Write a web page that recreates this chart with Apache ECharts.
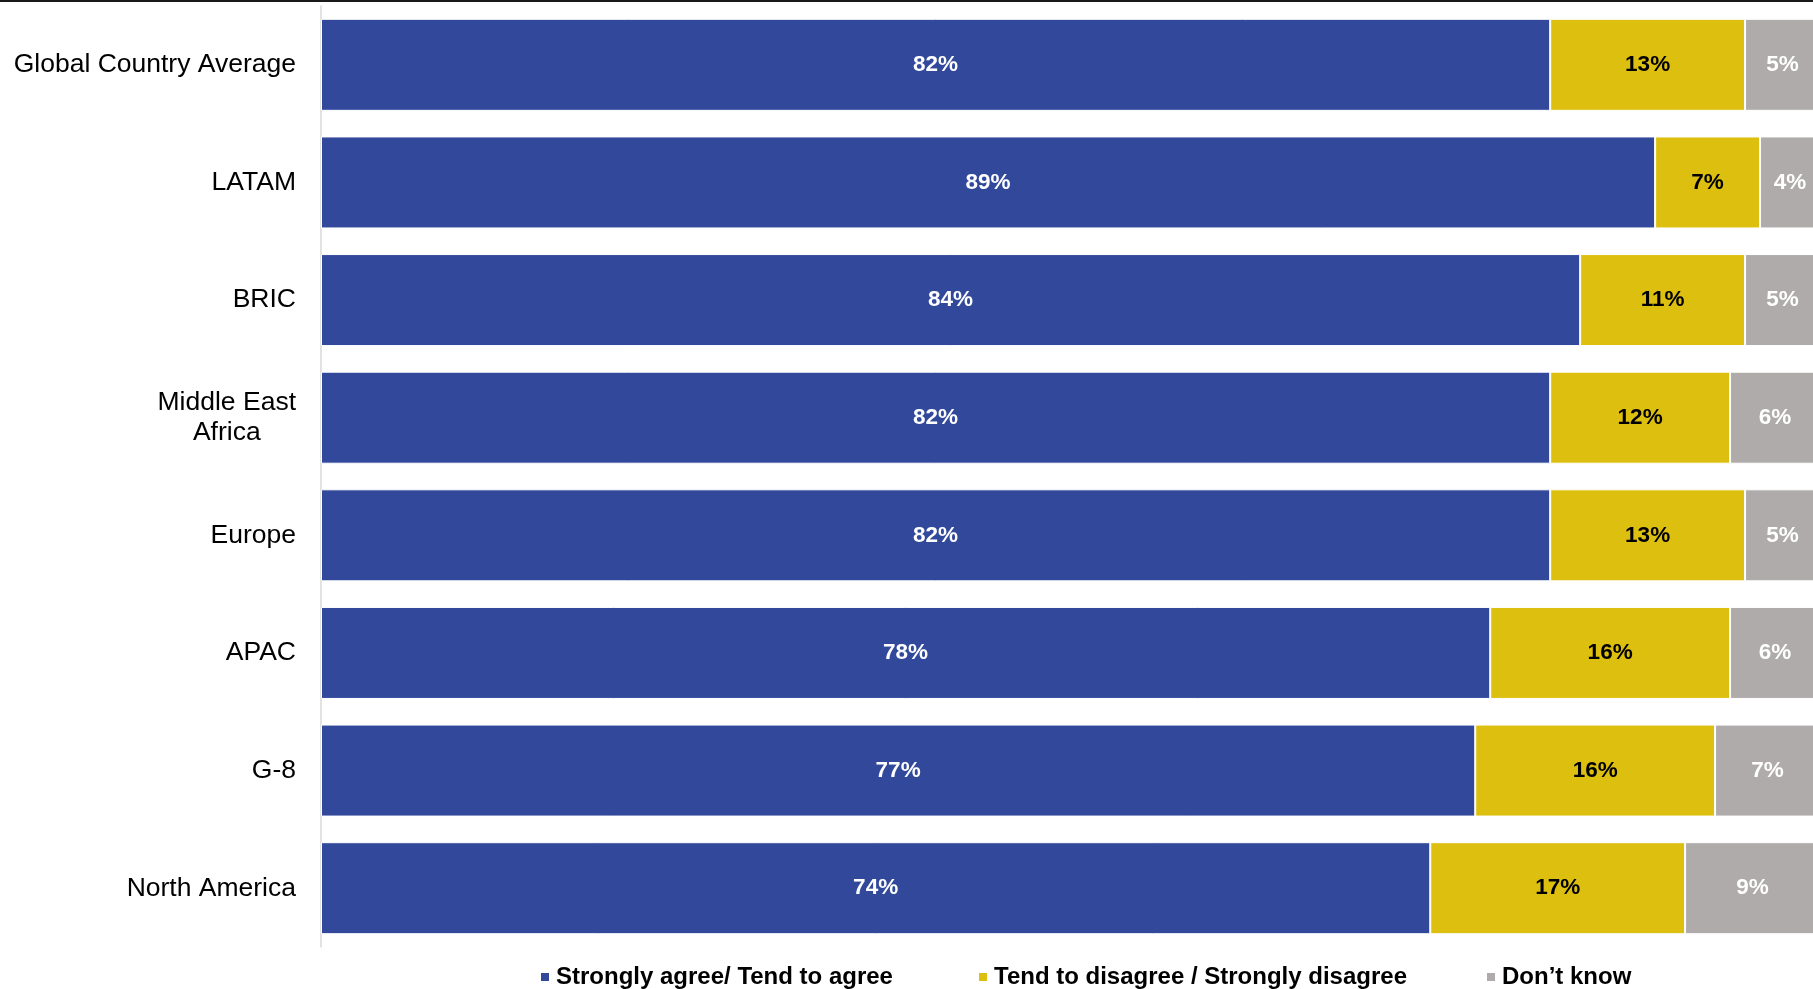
<!DOCTYPE html>
<html>
<head>
<meta charset="utf-8">
<title>Agreement by region</title>
<script src="https://cdn.jsdelivr.net/npm/echarts@6/dist/echarts.min.js"></script>
<style>
  html, body { margin: 0; padding: 0; background: #ffffff; }
  #chart { width: 1813px; height: 989px; }
</style>
</head>
<body>
<div id="chart"></div>
<script>
// Regions, top to bottom
const categories = ['Global Country Average', 'LATAM', 'BRIC', 'Middle East\nAfrica', 'Europe', 'APAC', 'G-8', 'North America'];
// Shares of respondents (%)
const agree    = [82, 89, 84, 82, 82, 78, 77, 74];
const disagree = [13, 7, 11, 12, 13, 16, 16, 17];
const dontKnow = [5, 4, 5, 6, 5, 6, 7, 9];

const seriesNames = ['Strongly agree/ Tend to agree', 'Tend to disagree / Strongly disagree', 'Don\u2019t know'];

const FONT = '"Liberation Sans", Arial, sans-serif';

function stackSeries(name, data, color, labelColor) {
  return {
    name: name,
    type: 'bar',
    stack: 'total',
    barWidth: 92,
    data: data,
    itemStyle: { color: color, borderColor: '#ffffff', borderWidth: 1 },
    label: {
      show: true,
      position: 'inside',
      formatter: '{c}%',
      color: labelColor,
      fontFamily: FONT,
      fontWeight: 'bold',
      fontSize: 22.5
    },
    emphasis: { disabled: true }
  };
}

function legendAt(name, left) {
  return {
    data: [name],
    left: left,
    top: 965,
    padding: 0,
    icon: 'rect',
    itemWidth: 10,
    itemHeight: 10,
    itemGap: 0,
    selectedMode: false,
    textStyle: { fontFamily: FONT, fontWeight: 'bold', fontSize: 24, color: '#000000', padding: [0, 0, 0, 1] }
  };
}

const chart = echarts.init(document.getElementById('chart'), null, { renderer: 'canvas' });

chart.setOption({
  animation: false,
  backgroundColor: '#ffffff',
  // the 100% bar runs a few pixels past the right edge of the page
  grid: { left: 321, right: -7, top: 6, bottom: 42, containLabel: false, outerBoundsMode: 'none' },
  xAxis: { type: 'value', min: 0, max: 100, show: false },
  yAxis: {
    type: 'category',
    inverse: true,
    data: categories,
    axisLine: { show: true, lineStyle: { color: '#d9d9d9', width: 1.5 } },
    axisTick: { show: false },
    axisLabel: {
      margin: 25,
      align: 'right',
      formatter: function (v) {
        return v.split('\n').map(function (line) { return '{c|' + line + '}'; }).join('\n');
      },
      rich: {
        c: { fontFamily: FONT, fontSize: 26.5, color: '#000000', align: 'center', lineHeight: 30 }
      }
    }
  },
  legend: [
    legendAt(seriesNames[0], 539),
    legendAt(seriesNames[1], 977),
    legendAt(seriesNames[2], 1485)
  ],
  graphic: [
    { type: 'rect', left: 0, top: 0, shape: { width: 1813, height: 2 }, style: { fill: '#1a1a1a' }, silent: true }
  ],
  series: [
    stackSeries(seriesNames[0], agree, '#31489b', '#ffffff'),
    stackSeries(seriesNames[1], disagree, '#ddbf0f', '#000000'),
    stackSeries(seriesNames[2], dontKnow, '#afabaa', '#ffffff')
  ]
});
</script>
</body>
</html>
